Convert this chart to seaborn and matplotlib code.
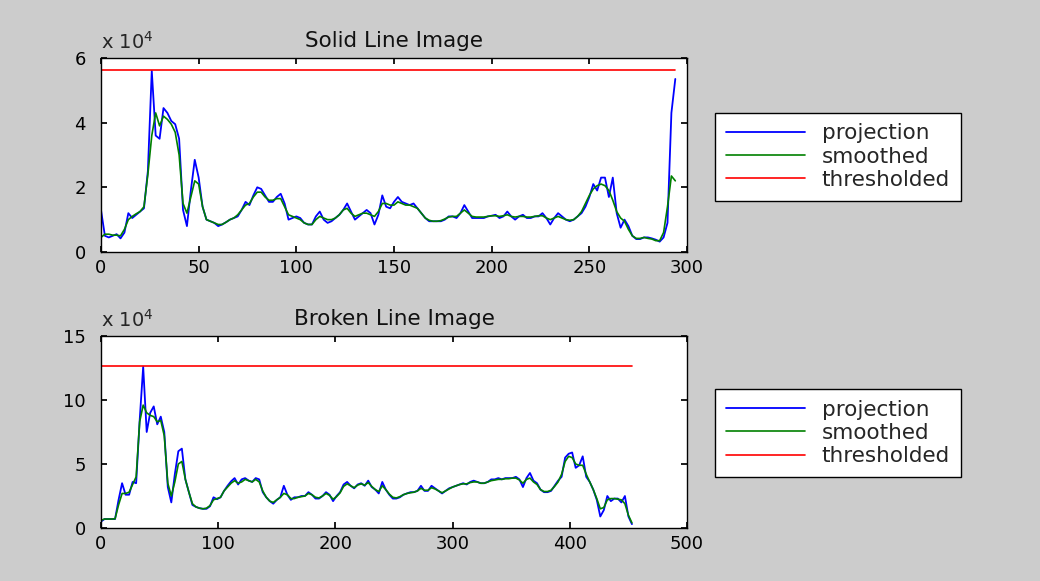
import numpy as np
import pandas as pd
import matplotlib
matplotlib.use("Agg")
import matplotlib.pyplot as plt
import seaborn as sns
from matplotlib.ticker import FuncFormatter

# projection profiles, values in units of 1e4
# solid line image: one sample every 2 columns
solid_proj = [
    1.30, 0.50, 0.45, 0.50, 0.55, 0.42, 0.60, 1.20, 1.05, 1.15,
    1.25, 1.35, 2.50, 5.60, 3.60, 3.50, 4.45, 4.30, 4.05, 3.95,
    3.50, 1.30, 0.80, 1.90, 2.85, 2.30, 1.40, 1.00, 0.95, 0.90,
    0.80, 0.85, 0.92, 1.00, 1.05, 1.10, 1.30, 1.55, 1.45, 1.75,
    2.00, 1.95, 1.75, 1.55, 1.55, 1.70, 1.80, 1.50, 1.00, 1.05,
    1.10, 1.05, 0.90, 0.85, 0.85, 1.10, 1.25, 1.00, 0.90, 0.95,
    1.05, 1.15, 1.30, 1.50, 1.25, 1.00, 1.10, 1.20, 1.30, 1.20,
    0.85, 1.15, 1.75, 1.40, 1.35, 1.55, 1.70, 1.55, 1.50, 1.45,
    1.50, 1.35, 1.20, 1.05, 0.95, 0.95, 0.95, 0.95, 1.00, 1.10,
    1.10, 1.05, 1.20, 1.45, 1.25, 1.05, 1.05, 1.05, 1.05, 1.10,
    1.12, 1.15, 1.05, 1.10, 1.25, 1.10, 1.00, 1.10, 1.15, 1.05,
    1.05, 1.10, 1.10, 1.20, 1.05, 0.85, 1.05, 1.20, 1.10, 1.00,
    0.95, 1.00, 1.10, 1.20, 1.40, 1.70, 2.10, 1.90, 2.30, 2.30,
    1.70, 2.30, 1.20, 0.75, 1.00, 0.80, 0.50, 0.40, 0.40, 0.45,
    0.45, 0.42, 0.38, 0.32, 0.45, 0.90, 4.30, 5.35,
]
solid_smooth = [
    0.45, 0.55, 0.55, 0.52, 0.52, 0.50, 0.70, 1.00, 1.10, 1.18,
    1.25, 1.40, 2.40, 3.60, 4.30, 3.90, 4.20, 4.10, 3.95, 3.70,
    3.00, 1.50, 1.20, 1.70, 2.20, 2.10, 1.40, 1.00, 0.95, 0.90,
    0.85, 0.85, 0.92, 1.00, 1.05, 1.15, 1.30, 1.45, 1.50, 1.70,
    1.85, 1.85, 1.70, 1.60, 1.60, 1.65, 1.65, 1.40, 1.15, 1.10,
    1.05, 1.00, 0.90, 0.85, 0.85, 1.00, 1.10, 1.05, 1.00, 1.00,
    1.05, 1.15, 1.30, 1.35, 1.20, 1.10, 1.15, 1.20, 1.20, 1.15,
    1.10, 1.25, 1.50, 1.50, 1.45, 1.45, 1.55, 1.50, 1.45, 1.45,
    1.40, 1.35, 1.20, 1.05, 0.98, 0.95, 0.95, 0.97, 1.02, 1.08,
    1.10, 1.10, 1.20, 1.30, 1.20, 1.10, 1.08, 1.08, 1.08, 1.10,
    1.12, 1.12, 1.10, 1.12, 1.15, 1.10, 1.08, 1.10, 1.10, 1.08,
    1.08, 1.10, 1.12, 1.12, 1.05, 1.00, 1.05, 1.10, 1.05, 1.00,
    0.98, 1.00, 1.10, 1.25, 1.50, 1.75, 1.95, 2.05, 2.10, 2.05,
    1.90, 1.60, 1.25, 1.05, 0.95, 0.70, 0.50, 0.42, 0.42, 0.45,
    0.42, 0.40, 0.35, 0.35, 0.60, 1.40, 2.35, 2.20,
]
solid_thresh = 5.62

# broken line image: one sample every 3 columns
broken_proj = [
    0.50, 0.70, 0.70, 0.70, 0.70, 2.20, 3.50, 2.60, 2.60, 3.60,
    3.50, 8.40, 12.60, 7.50, 9.00, 9.50, 8.10, 8.70, 7.50, 3.20,
    2.00, 4.20, 6.00, 6.20, 3.80, 2.80, 1.80, 1.65, 1.55, 1.50,
    1.50, 1.70, 2.40, 2.25, 2.40, 2.90, 3.30, 3.65, 3.90, 3.40,
    3.80, 3.90, 3.70, 3.60, 3.90, 3.80, 2.80, 2.40, 2.10, 1.90,
    2.20, 2.40, 3.30, 2.60, 2.20, 2.40, 2.40, 2.50, 2.50, 2.80,
    2.60, 2.30, 2.30, 2.50, 2.80, 2.60, 2.10, 2.50, 2.80, 3.40,
    3.60, 3.30, 3.10, 3.40, 3.50, 3.30, 3.70, 3.20, 3.00, 2.70,
    3.60, 3.00, 2.60, 2.30, 2.30, 2.40, 2.60, 2.70, 2.80, 2.80,
    2.90, 3.30, 2.90, 2.90, 3.30, 3.10, 2.90, 2.70, 2.90, 3.10,
    3.20, 3.30, 3.40, 3.50, 3.40, 3.60, 3.70, 3.60, 3.50, 3.50,
    3.60, 3.80, 3.80, 3.90, 3.80, 3.90, 3.90, 3.90, 4.00, 3.80,
    3.20, 3.90, 4.30, 3.70, 3.50, 3.00, 2.80, 2.80, 2.90, 3.30,
    3.70, 4.00, 5.50, 5.80, 5.90, 4.70, 4.90, 5.60, 4.00, 3.60,
    3.00, 2.20, 0.90, 1.40, 2.50, 2.10, 2.30, 2.30, 2.00, 2.50,
    0.90, 0.30,
]
broken_smooth = [
    0.60, 0.70, 0.70, 0.70, 0.72, 1.80, 2.70, 2.70, 2.80, 3.40,
    4.00, 8.30, 9.60, 9.00, 8.80, 8.70, 8.30, 8.40, 7.20, 3.50,
    2.50, 3.60, 5.00, 5.20, 3.80, 2.80, 1.90, 1.65, 1.55, 1.50,
    1.55, 1.75, 2.20, 2.30, 2.40, 2.90, 3.20, 3.50, 3.70, 3.50,
    3.60, 3.80, 3.70, 3.60, 3.80, 3.60, 2.90, 2.40, 2.10, 2.00,
    2.20, 2.40, 2.70, 2.60, 2.30, 2.30, 2.40, 2.45, 2.50, 2.70,
    2.60, 2.40, 2.35, 2.50, 2.70, 2.55, 2.25, 2.45, 2.75, 3.25,
    3.45, 3.30, 3.15, 3.35, 3.45, 3.35, 3.55, 3.25, 3.00, 2.85,
    3.30, 3.00, 2.65, 2.40, 2.35, 2.45, 2.60, 2.70, 2.75, 2.80,
    2.90, 3.10, 2.95, 2.95, 3.15, 3.05, 2.90, 2.75, 2.90, 3.05,
    3.20, 3.30, 3.40, 3.45, 3.45, 3.55, 3.60, 3.60, 3.50, 3.50,
    3.60, 3.70, 3.75, 3.80, 3.80, 3.85, 3.85, 3.90, 3.90, 3.75,
    3.50, 3.80, 3.90, 3.60, 3.40, 3.00, 2.85, 2.85, 2.95, 3.25,
    3.60, 4.20, 5.20, 5.60, 5.50, 5.00, 4.90, 4.90, 4.20, 3.60,
    3.00, 2.30, 1.50, 1.60, 2.20, 2.30, 2.30, 2.25, 2.20, 1.90,
    1.00, 0.40,
]
broken_thresh = 12.68

solid_x = np.arange(len(solid_proj)) * 2
broken_x = np.arange(len(broken_proj)) * 3

sns.set_theme(style="ticks", rc={
    "figure.facecolor": "#cccccc",
    "axes.facecolor": "white",
    "axes.edgecolor": "black",
    "axes.linewidth": 1.0,
    "xtick.direction": "in",
    "ytick.direction": "in",
    "xtick.top": True,
    "ytick.right": True,
    "xtick.major.size": 4,
    "ytick.major.size": 4,
    "xtick.color": "black",
    "ytick.color": "black",
})
plt.rcParams['font.family'] = ['DejaVu Sans']

fig = plt.figure(figsize=(10.4, 5.81), dpi=100)
ax1 = fig.add_axes([0.0971, 0.5663, 0.5635, 0.334])
ax2 = fig.add_axes([0.0971, 0.0912, 0.5635, 0.3305])


def draw(ax, x, proj, smooth, thr, title, xmax, xstep, ymax, ystep, leg_y):
    df = pd.DataFrame({
        "col": x,
        "projection": np.array(proj) * 1e4,
        "smoothed": np.array(smooth) * 1e4,
        "thresholded": np.full(len(x), thr * 1e4),
    })
    sns.lineplot(data=df, x="col", y="projection", ax=ax, color="#0000ff", lw=1.3, label="projection")
    sns.lineplot(data=df, x="col", y="smoothed", ax=ax, color="#008000", lw=1.2, label="smoothed")
    sns.lineplot(data=df, x="col", y="thresholded", ax=ax, color="#ff0000", lw=1.2, label="thresholded")
    ax.set_xlim(0, xmax)
    ax.set_ylim(0, ymax * 1e4)
    ax.set_xticks(np.arange(0, xmax + 1, xstep))
    ax.set_yticks(np.arange(0, ymax + 1, ystep) * 1e4)
    ax.yaxis.set_major_formatter(FuncFormatter(lambda v, p: f"{v / 1e4:g}"))
    ax.tick_params(labelsize=13)
    ax.tick_params(axis="x", pad=5)
    ax.tick_params(axis="y", pad=11)
    ax.set_xlabel("")
    ax.set_ylabel("")
    ax.set_title(title, fontsize=15.5, pad=8, color="#111111")
    ax.text(0.0, 1.025, r"x 10$^{4}$", transform=ax.transAxes, ha="left", va="bottom", fontsize=14)
    ax.legend(loc="center left", bbox_to_anchor=(715 / 1040, leg_y), bbox_transform=fig.transFigure,
              fontsize=15.5, frameon=True, fancybox=False, edgecolor="black", framealpha=1,
              borderaxespad=0, handlelength=3.7, handletextpad=0.75, labelspacing=0.15, borderpad=0.5)


draw(ax1, solid_x, solid_proj, solid_smooth, solid_thresh, "Solid Line Image", 300, 50, 6, 2, 0.7306)
draw(ax2, broken_x, broken_proj, broken_smooth, broken_thresh, "Broken Line Image", 500, 100, 15, 5, 0.2547)

plt.savefig("out.png", dpi=100, facecolor=fig.get_facecolor())
